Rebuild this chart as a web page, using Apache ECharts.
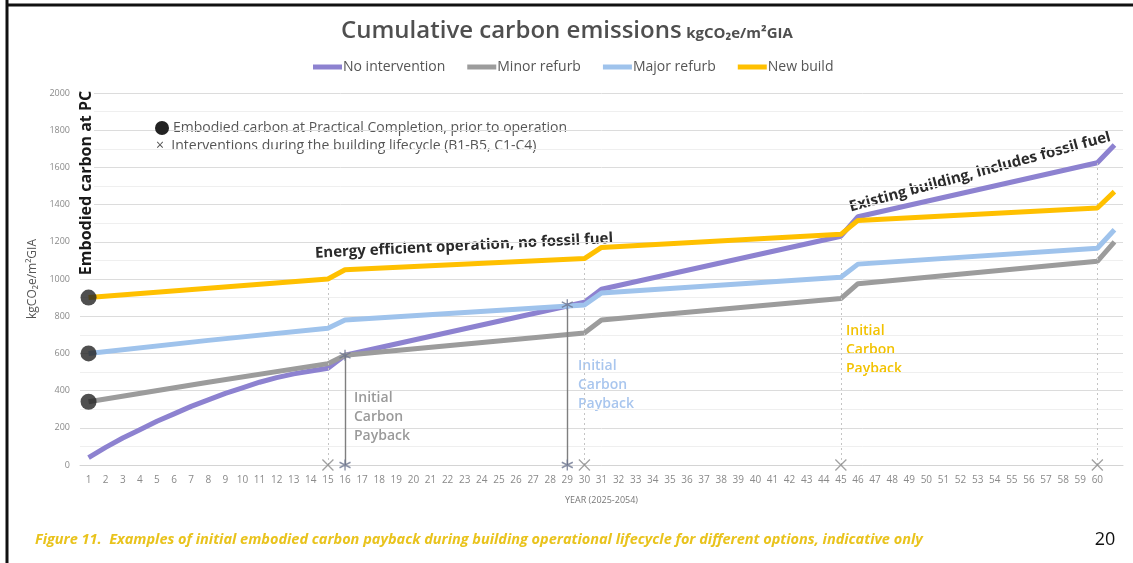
<!DOCTYPE html>
<html>
<head>
<meta charset="utf-8">
<title>Cumulative carbon emissions</title>
<script src="https://cdn.jsdelivr.net/npm/echarts@6/dist/echarts.min.js"></script>
<style>
  html, body { margin: 0; padding: 0; background: #fff; }
  #chart { width: 1133px; height: 563px; }
</style>
</head>
<body>
<div id="chart"></div>
<script>
// x axis: years 1..61 (last one carries no label)
var years = [];
for (var i = 1; i <= 61; i++) years.push(String(i));

var seriesNames = ['No intervention', 'Minor refurb', 'Major refurb', 'New build'];

// values, only at the years where the lines bend
var noInterventionYears  = [1, 2, 3, 4, 5, 6, 7, 8, 9, 10, 11, 12, 13, 14, 15, 16, 30, 31, 45, 46, 60, 61];
var noInterventionValues = [40, 95, 145, 190, 235, 275, 315, 350, 385, 415, 445, 470, 490, 505, 520, 590, 875, 945, 1230, 1335, 1625, 1720];

var minorRefurbYears  = [1, 8, 15, 16, 30, 31, 45, 46, 60, 61];
var minorRefurbValues = [340, 445, 545, 590, 710, 780, 895, 975, 1095, 1200];

var majorRefurbYears  = [1, 8, 15, 16, 30, 31, 45, 46, 60, 61];
var majorRefurbValues = [600, 670, 735, 780, 860, 925, 1010, 1080, 1165, 1265];

var newBuildYears  = [1, 15, 16, 30, 31, 45, 46, 60, 61];
var newBuildValues = [900, 1000, 1050, 1110, 1170, 1240, 1315, 1382, 1470];

// embodied carbon at practical completion (year 1)
var embodiedValues = [900, 600, 340];

// interventions (x on the axis) and the dotted guide tops
var interventionYears = [15, 30, 45, 60];
var interventionTops  = [1000, 1110, 1240, 1625];

// initial carbon payback points
var paybackYears  = [16, 29];
var paybackValues = [590, 862];

var colors = ['#8d82d0', '#9c9c9c', '#9fc3ec', '#ffc000'];

function pairs(ys, vs) {
    return ys.map(function (y, i) { return [String(y), vs[i]]; });
}

var myChart = echarts.init(document.getElementById('chart'));

var lineData = [
    pairs(noInterventionYears, noInterventionValues),
    pairs(minorRefurbYears, minorRefurbValues),
    pairs(majorRefurbYears, majorRefurbValues),
    pairs(newBuildYears, newBuildValues)
];

var series = seriesNames.map(function (name, i) {
    return {
        name: name,
        type: 'line',
        data: lineData[i],
        showSymbol: false,
        lineStyle: { width: 5, color: colors[i] },
        itemStyle: { color: colors[i] },
        z: 3 + i
    };
});

var asterisk = 'path://M5,0 L5,10 M0.67,2.5 L9.33,7.5 M0.67,7.5 L9.33,2.5';
var cross = 'path://M0,0 L10,10 M10,0 L0,10';

series.push({
    name: 'interventions',
    type: 'scatter',
    data: interventionYears.map(function (y) { return [String(y), 0]; }),
    symbol: cross,
    symbolSize: 11,
    itemStyle: { color: 'rgba(0,0,0,0)', borderColor: '#8a8a8a', borderWidth: 1.3 },
    silent: true,
    z: 8,
    markLine: {
        silent: true,
        symbol: 'none',
        label: { show: false },
        lineStyle: { color: '#c4c4c4', type: [2, 3], width: 1 },
        data: interventionYears.map(function (y, i) {
            return [{ coord: [String(y), 0] }, { coord: [String(y), interventionTops[i]] }];
        })
    }
});

series.push({
    name: 'payback',
    type: 'scatter',
    data: pairs(paybackYears, paybackValues).concat(paybackYears.map(function (y) { return [String(y), 0]; })),
    symbol: asterisk,
    symbolSize: 11,
    itemStyle: { color: 'rgba(0,0,0,0)', borderColor: '#6d7690', borderWidth: 1.4 },
    silent: true,
    z: 9,
    markLine: {
        silent: true,
        symbol: 'none',
        label: { show: false },
        lineStyle: { color: '#7f7f7f', type: 'solid', width: 1.4 },
        data: paybackYears.map(function (y, i) {
            return [{ coord: [String(y), 0] }, { coord: [String(y), paybackValues[i]] }];
        })
    }
});

series.push({
    name: 'embodied',
    type: 'scatter',
    data: embodiedValues.map(function (v) { return ['1', v]; }),
    symbol: 'circle',
    symbolSize: 16,
    itemStyle: { color: '#232323' },
    silent: true,
    z: 10
});

var paybackText = 'Initial\nCarbon\nPayback';

var option = {
    textStyle: { fontFamily: 'Open Sans' },
    animation: false,
    title: {
        left: 336,
        top: 14,
        text: '{a|Cumulative carbon emissions} {b|kgCO₂e/m²GIA}',
        textStyle: {
            rich: {
                a: { fontSize: 24, fontWeight: 600, color: '#4f4f4f', fontFamily: 'Open Sans' },
                b: { fontSize: 15, color: '#4f4f4f', fontFamily: 'Open Sans', padding: [6, 0, 0, 0] }
            }
        }
    },
    legend: {
        data: seriesNames,
        top: 60,
        left: 313,
        icon: 'rect',
        itemWidth: 29,
        itemHeight: 5,
        itemGap: 22,
        padding: 0,
        textStyle: { fontSize: 14, color: '#555', padding: [0, 0, 0, -4] }
    },
    grid: { left: 80, right: 10, top: 93, bottom: 98 },
    xAxis: {
        type: 'category',
        data: years,
        boundaryGap: true,
        name: 'YEAR (2025-2054)',
        nameLocation: 'middle',
        nameGap: 31,
        nameTextStyle: { fontSize: 9, color: '#777' },
        axisLine: { lineStyle: { color: '#d4d4d4' } },
        axisTick: { show: false },
        axisLabel: {
            interval: 0,
            fontSize: 10,
            color: '#8a8a8a',
            margin: 10,
            formatter: function (v) { return v === '61' ? '' : v; }
        },
        splitLine: { show: false }
    },
    yAxis: {
        type: 'value',
        min: 0,
        max: 2000,
        interval: 200,
        name: 'kgCO₂e/m²GIA',
        nameLocation: 'middle',
        nameRotate: 90,
        nameGap: 38,
        nameTextStyle: { fontSize: 12, color: '#555' },
        axisLine: { show: false },
        axisTick: { show: false },
        axisLabel: {
            fontSize: 9,
            color: '#8a8a8a',
            margin: 10,
            formatter: function (v) { return String(v); }
        },
        splitLine: { lineStyle: { color: '#dcdcdc', width: 1 } },
        minorTick: { show: false, splitNumber: 2 },
        minorSplitLine: { show: true, lineStyle: { color: '#efefef', width: 1 } }
    },
    graphic: [
        { type: 'line', shape: { x1: 7, y1: 0, x2: 7, y2: 563 }, style: { stroke: '#111', lineWidth: 3 } },
        { type: 'line', shape: { x1: 6, y1: 5, x2: 1133, y2: 5 }, style: { stroke: '#111', lineWidth: 3 } },
        {
            type: 'text', x: 86, y: 183, rotation: Math.PI / 2, z: 30,
            style: {
                text: 'Embodied carbon at PC', font: 'bold 16px "Open Sans"', fill: '#1a1a1a',
                align: 'center', verticalAlign: 'middle', backgroundColor: '#fff', padding: [0, 2, 0, 2]
            }
        },
        { type: 'circle', shape: { cx: 162, cy: 128, r: 7 }, style: { fill: '#222' }, z: 20 },
        {
            type: 'text', x: 173, y: 128,
            style: { text: 'Embodied carbon at Practical Completion, prior to operation', font: '14px "Open Sans"', fill: '#555', verticalAlign: 'middle' }
        },
        {
            type: 'text', x: 156, y: 146,
            style: { text: '×  Interventions during the building lifecycle (B1-B5, C1-C4)', font: '14px "Open Sans"', fill: '#555', verticalAlign: 'middle' }
        },
        {
            type: 'text', x: 464, y: 246, rotation: 0.05,
            style: { text: 'Energy efficient operation, no fossil fuel', font: 'bold 15px "Open Sans"', fill: '#2b2b2b', align: 'center', verticalAlign: 'middle' }
        },
        {
            type: 'text', x: 980, y: 172, rotation: 0.265,
            style: { text: 'Existing building, includes fossil fuel', font: 'bold 15px "Open Sans"', fill: '#2b2b2b', align: 'center', verticalAlign: 'middle' }
        },
        {
            type: 'text', x: 354, y: 389,
            style: { text: paybackText, font: '600 14px "Open Sans"', lineHeight: 19, fill: '#9a9a9a' }
        },
        {
            type: 'text', x: 578, y: 357,
            style: { text: paybackText, font: '600 14px "Open Sans"', lineHeight: 19, fill: '#a9c6ee' }
        },
        {
            type: 'text', x: 846, y: 322,
            style: { text: paybackText, font: '600 14px "Open Sans"', lineHeight: 19, fill: '#f2c200' }
        },
        {
            type: 'text', x: 35, y: 540,
            style: { text: 'Figure 11.  Examples of initial embodied carbon payback during building operational lifecycle for different options, indicative only', font: 'italic bold 14.5px "Open Sans"', fill: '#e9c31c', verticalAlign: 'middle' }
        },
        {
            type: 'text', x: 1105, y: 540,
            style: { text: '20', font: '18px "Open Sans"', fill: '#111', align: 'center', verticalAlign: 'middle' }
        }
    ],
    series: series
};

myChart.setOption(option);
window.addEventListener('resize', function () {
    myChart.resize();
});
</script>
</body>
</html>
